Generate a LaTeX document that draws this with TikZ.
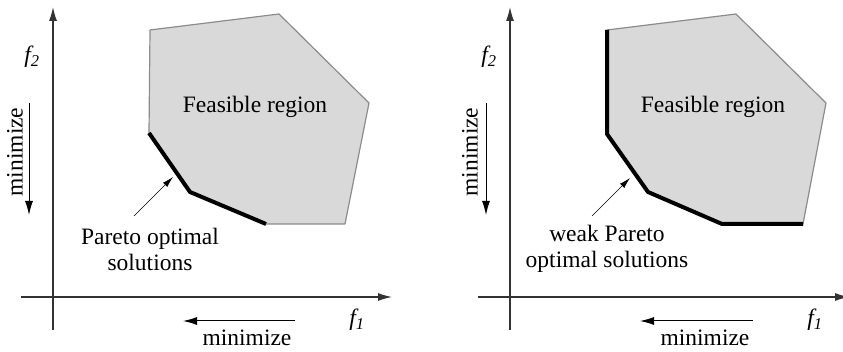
\documentclass[tikz,border=0pt]{standalone}
\usepackage{fontspec}
\setmainfont{Liberation Serif}
\usetikzlibrary{arrows.meta}

\begin{document}
\begin{tikzpicture}[
    x=1pt, y=-1pt,
    every node/.style={font=\fontsize{23.5}{26}\selectfont, inner sep=0pt},
    axis/.style={draw=black!80, line width=1.2pt, -{Latex[length=14pt,width=8pt]}},
    dirarrow/.style={draw=black, line width=1pt, -{Latex[length=14pt,width=8pt]}},
    region/.style={draw=black!45, fill=black!15, line width=1.2pt, line join=round},
    front/.style={draw=black, line width=4pt, line join=round},
    pointer/.style={draw=black, line width=0.6pt, -{Latex[length=11pt,width=6pt]}}
]
\useasboundingbox (0,0) rectangle (843,352);

% left panel: Pareto optimal
\coordinate (a1) at (150,30);
\coordinate (b1) at (279,14);
\coordinate (c1) at (369,103);
\coordinate (d1) at (345,224);
\coordinate (e1) at (266,224);
\coordinate (g1) at (190,192);
\coordinate (h1) at (149,133);
\fill[region] (a1) -- (b1) -- (c1) -- (d1) -- (e1) -- (g1) -- (h1) -- cycle;
\draw[front] (h1) -- (g1) -- (e1);
\node (feas1) at (255,107) {Feasible region};
\node[align=center] (pareto1) at (150,249) {Pareto optimal\\solutions};
\coordinate (ps1) at (134,216);
\coordinate (pe1) at (173,177);
\draw[pointer] (ps1) -- (pe1);

\coordinate (ybot1) at (53,330);
\coordinate (ytop1) at (53,7);
\coordinate (xlft1) at (21,297);
\coordinate (xrgt1) at (392,297);
\draw[axis] (ybot1) -- (ytop1);
\draw[axis] (xlft1) -- (xrgt1);
\node (ftwo1) at (32,57) {\textit{f\textsubscript{2}}};
\node (fone1) at (357,320) {\textit{f\textsubscript{1}}};
\node[rotate=90] (miny1) at (15,152) {minimize};
\coordinate (my1a) at (29,103);
\coordinate (my1b) at (29,215);
\draw[dirarrow] (my1a) -- (my1b);
\node (minx1) at (247,338) {minimize};
\coordinate (mx1a) at (295,321);
\coordinate (mx1b) at (183,321);
\draw[dirarrow] (mx1a) -- (mx1b);

% right panel: weak Pareto optimal
\coordinate (a2) at (607,30);
\coordinate (b2) at (736,14);
\coordinate (c2) at (826,103);
\coordinate (d2) at (803,224);
\coordinate (e2) at (722,224);
\coordinate (g2) at (648,192);
\coordinate (h2) at (607,134);
\fill[region] (a2) -- (b2) -- (c2) -- (d2) -- (e2) -- (g2) -- (h2) -- cycle;
\draw[front] (a2) -- (h2) -- (g2) -- (e2) -- (d2);
\node (feas2) at (713,107) {Feasible region};
\node[align=center] (pareto2) at (607,249) {weak Pareto\\optimal solutions};
\coordinate (ps2) at (592,216);
\coordinate (pe2) at (630,178);
\draw[pointer] (ps2) -- (pe2);

\coordinate (ybot2) at (510,330);
\coordinate (ytop2) at (510,7);
\coordinate (xlft2) at (478,297);
\coordinate (xrgt2) at (849,297);
\draw[axis] (ybot2) -- (ytop2);
\draw[axis] (xlft2) -- (xrgt2);
\node (ftwo2) at (489,57) {\textit{f\textsubscript{2}}};
\node (fone2) at (815,320) {\textit{f\textsubscript{1}}};
\node[rotate=90] (miny2) at (470,152) {minimize};
\coordinate (my2a) at (486,103);
\coordinate (my2b) at (486,215);
\draw[dirarrow] (my2a) -- (my2b);
\node (minx2) at (705,338) {minimize};
\coordinate (mx2a) at (753,321);
\coordinate (mx2b) at (640,321);
\draw[dirarrow] (mx2a) -- (mx2b);
\end{tikzpicture}
\end{document}
